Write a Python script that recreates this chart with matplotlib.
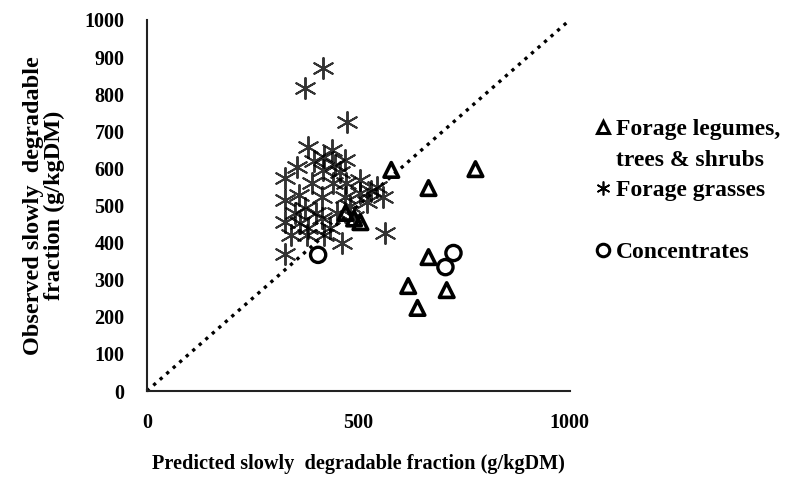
import matplotlib.pyplot as plt
from matplotlib.lines import Line2D

# predicted vs observed slowly degradable fraction (g/kgDM)
legumes_x = [578, 777, 666, 666, 618, 709, 640, 470, 490, 505]
legumes_y = [596, 598, 547, 361, 283, 272, 224, 480, 465, 455]

grasses_x = [374, 417, 474, 382, 438, 469, 355, 327, 417, 457, 505, 545, 559,
             327, 374, 415, 469, 505, 327, 362, 415, 434, 462, 564, 327, 379,
             360, 390, 440, 480, 520, 400, 450, 350, 340, 420, 395, 380, 490,
             530, 470, 420, 445]
grasses_y = [817, 871, 725, 658, 650, 623, 604, 574, 596, 590, 569, 550, 523,
             515, 493, 523, 523, 534, 455, 453, 466, 439, 399, 426, 370, 420,
             528, 560, 560, 500, 510, 480, 480, 480, 420, 420, 620, 440, 470,
             540, 560, 630, 610]

conc_x = [405, 706, 725]
conc_y = [367, 334, 372]

x_ticks = [0, 500, 1000]
y_ticks = list(range(0, 1001, 100))

plt.rcParams['font.family'] = ['Liberation Serif', 'DejaVu Serif']
plt.rcParams['font.weight'] = 'bold'

fig = plt.figure(figsize=(7.98, 4.87), dpi=100)
ax = fig.add_axes([0.184, 0.197, 0.530, 0.762])

asterisk = (6, 2, 0)

# 1:1 line
ax.plot([0, 1000], [0, 1000], color='black', linestyle=(0, (1, 1.6)),
        linewidth=2.4, clip_on=False, zorder=1)

ax.scatter(grasses_x, grasses_y, marker=asterisk, s=230, color='black',
           linewidths=1.4, alpha=0.8, zorder=2)
ax.scatter(legumes_x, legumes_y, marker='^', s=110, facecolors='none',
           edgecolors='black', linewidths=2.6, zorder=3)
ax.scatter(conc_x, conc_y, marker='o', s=120, facecolors='none',
           edgecolors='black', linewidths=2.4, zorder=3)

ax.set_xlim(0, 1000)
ax.set_ylim(0, 1000)
ax.set_xticks(x_ticks)
ax.set_yticks(y_ticks)
ax.tick_params(length=0, labelsize=14.5, pad=16)
for s in ['top', 'right']:
    ax.spines[s].set_visible(False)
for s in ['left', 'bottom']:
    ax.spines[s].set_linewidth(1.5)
    ax.spines[s].set_color('#222222')

ax.set_xlabel('Predicted slowly  degradable fraction (g/kgDM)', fontsize=14.6,
              fontweight='bold', labelpad=15)
ax.set_ylabel('Observed slowly  degradable\nfraction (g/kgDM)', fontsize=17.5,
              fontweight='bold', labelpad=14, linespacing=1.0)

blank = Line2D([], [], linestyle='none')
handles = [
    Line2D([], [], marker='^', linestyle='none', markersize=8,
           markerfacecolor='none', markeredgecolor='black', markeredgewidth=2.2),
    blank,
    Line2D([], [], marker=asterisk, linestyle='none', markersize=10,
           color='black', markeredgewidth=1.2),
    blank,
    Line2D([], [], marker='o', linestyle='none', markersize=9,
           markerfacecolor='none', markeredgecolor='black', markeredgewidth=2.2),
]
labels = ['Forage legumes,', 'trees & shrubs', 'Forage grasses', ' ', 'Concentrates']
fig.legend(handles, labels, loc='upper left', bbox_to_anchor=(0.732, 0.781),
           frameon=False, fontsize=17, handlelength=0.6, handletextpad=0.25,
           labelspacing=0.39, borderpad=0)

fig.savefig('out.png', dpi=100)
